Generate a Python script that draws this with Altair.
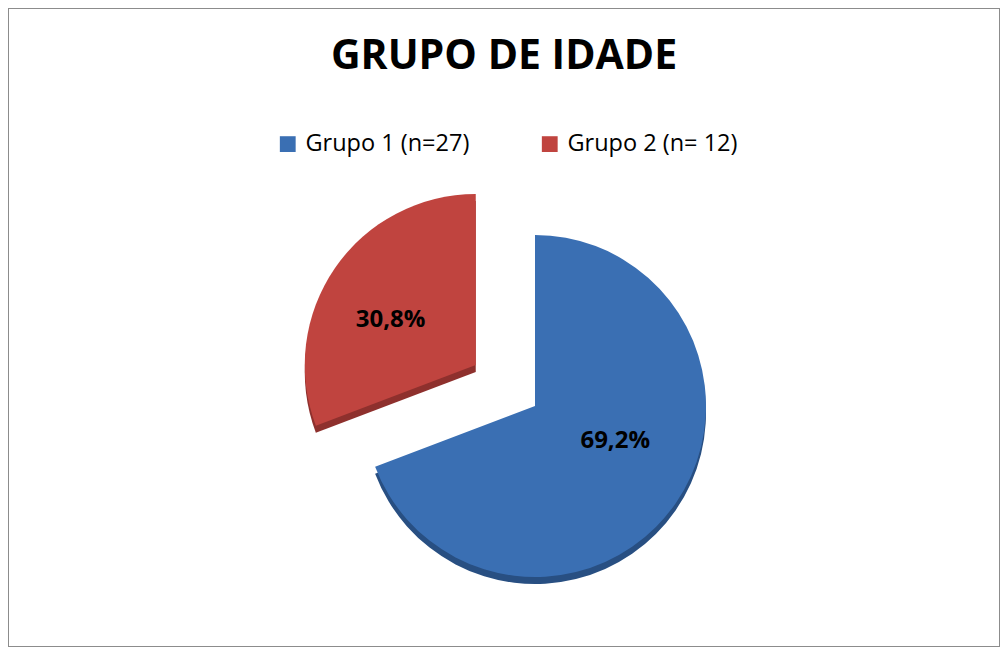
import altair as alt
import pandas as pd

title_text = ["GRUPO DE IDADE"]
groups = ["Grupo 1 (n=27)", "Grupo 2 (n= 12)"]
counts = [27, 12]
pct_labels = ["69,2%", "30,8%"]
exploded = [0, 1]
colors = ["#3a6fb3", "#c0443f"]
dark_colors = ["#284f82", "#8e302d"]

df = pd.DataFrame({"group": groups, "count": counts, "pct": pct_labels,
                   "explode": exploded, "order": [0, 1]})

W, H = 992, 639
CX, CY = 527, 398
R = 171
EXPL = 72
DEPTH = 7
FONT = "Open Sans"

base = alt.Chart(df).transform_joinaggregate(
    total="sum(count)"
).transform_window(
    cum="sum(count)", sort=[alt.SortField("order")]
).transform_calculate(
    t0="(datum.cum - datum.count) / datum.total * 2 * PI",
    t1="datum.cum / datum.total * 2 * PI",
    shade="datum.group",
).transform_calculate(
    mid="(datum.t0 + datum.t1) / 2",
).transform_calculate(
    px=f"{CX} + datum.explode * {EXPL} * sin(datum.mid)",
    py=f"{CY} - datum.explode * {EXPL} * cos(datum.mid)",
).transform_calculate(
    lx=f"datum.px + {R * 0.57} * sin(datum.mid) - 5 * datum.explode",
    ly=f"datum.py - {R * 0.41} * cos(datum.mid) - 5",
    pyd=f"datum.py + {DEPTH}",
)

depth = base.mark_arc(radius=R).encode(
    theta=alt.Theta("t0:Q", scale=None),
    theta2="t1:Q",
    x=alt.X("px:Q", scale=None, axis=None),
    y=alt.Y("pyd:Q", scale=None, axis=None),
    fill=alt.Fill("shade:N", scale=alt.Scale(domain=groups, range=dark_colors), legend=None),
)

top = base.mark_arc(radius=R).encode(
    theta=alt.Theta("t0:Q", scale=None),
    theta2="t1:Q",
    x=alt.X("px:Q", scale=None, axis=None),
    y=alt.Y("py:Q", scale=None, axis=None),
    color=alt.Color(
        "group:N",
        scale=alt.Scale(domain=groups, range=colors),
        legend=alt.Legend(
            title=None, orient="none", direction="horizontal",
            legendX=268, legendY=124, symbolType="square", symbolSize=250,
            symbolStrokeWidth=0, labelFontSize=23.5, labelFont=FONT,
            labelColor="#000000", labelOffset=6, columnPadding=68,
            labelLimit=400, symbolOpacity=1,
        ),
    ),
)

labels = base.mark_text(fontSize=24, fontWeight="bold", font=FONT, color="#000000").encode(
    x=alt.X("lx:Q", scale=None, axis=None),
    y=alt.Y("ly:Q", scale=None, axis=None),
    text="pct:N",
)

title = alt.Chart(pd.DataFrame({"t": title_text})).mark_text(
    fontSize=41, fontWeight="bold", font=FONT, color="#000000"
).encode(
    x=alt.value(W / 2),
    y=alt.value(49),
    text="t:N",
)

chart = alt.layer(depth, top, labels, title).resolve_scale(
    fill="independent", color="independent"
).properties(
    width=W, height=H, autosize=alt.AutoSizeParams(type="none"), padding=0
).configure_view(
    stroke="#8c8c8c", strokeWidth=2
)

chart.save("out.html", embed_options={"renderer": "svg", "actions": False})
